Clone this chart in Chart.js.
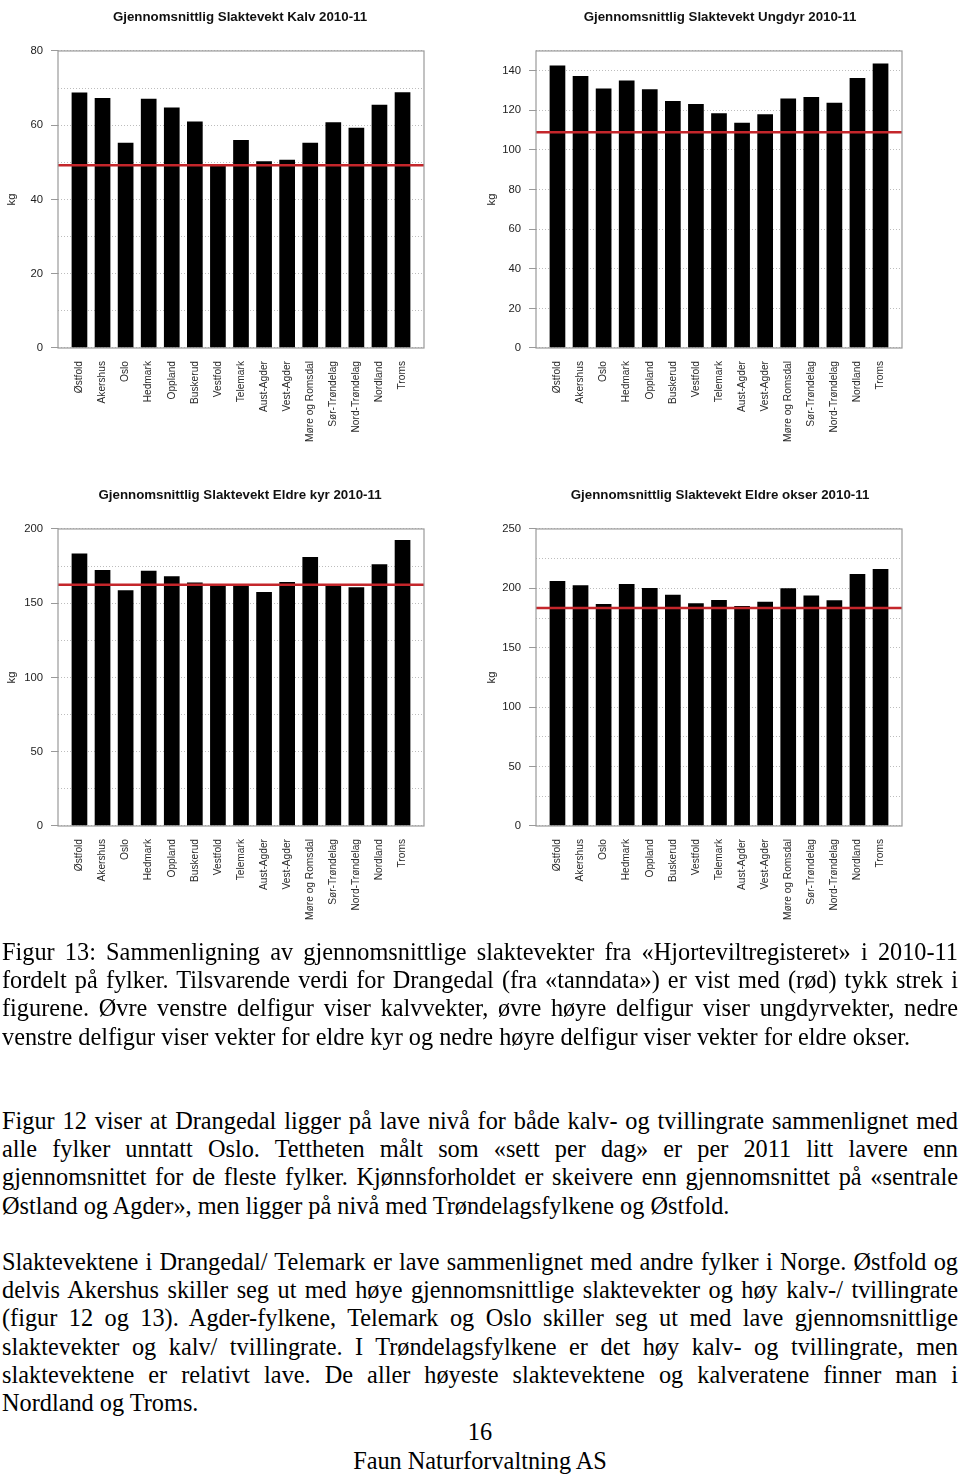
<!DOCTYPE html>
<html>
<head>
<meta charset="utf-8">
<script src="https://cdn.jsdelivr.net/npm/chart.js@4.4.0/dist/chart.umd.min.js"></script>
<style>
  body { margin: 0; background: #fff; }
  #page { position: relative; width: 960px; height: 1475px; overflow: hidden; background: #fff; }
  canvas { position: absolute; }
  .txt { position: absolute; left: 2px; width: 956px; font-family: "Liberation Serif", "Times New Roman", serif;
         font-size: 24.3px; line-height: 28.2px; color: #000; }
  .txt div { text-align: justify; text-align-last: justify; }
  .txt div.last { text-align-last: left; }
  .foot { position: absolute; left: 0; width: 960px; text-align: center;
          font-family: "Liberation Serif", "Times New Roman", serif; font-size: 24.3px; line-height: 28.2px; }
</style>
</head>
<body>
<div id="page">
  <canvas id="c0" width="480" height="470" style="left:0;top:0"></canvas>
  <canvas id="c1" width="480" height="470" style="left:480px;top:0"></canvas>
  <canvas id="c2" width="480" height="470" style="left:0;top:478px"></canvas>
  <canvas id="c3" width="480" height="470" style="left:480px;top:478px"></canvas>

  <div class="txt" style="top:938px">
    <div>Figur 13: Sammenligning av gjennomsnittlige slaktevekter fra «Hjorteviltregisteret» i 2010-11</div>
    <div>fordelt på fylker. Tilsvarende verdi for Drangedal (fra «tanndata») er vist med (rød) tykk strek i</div>
    <div>figurene. Øvre venstre delfigur viser kalvvekter, øvre høyre delfigur viser ungdyrvekter, nedre</div>
    <div class="last">venstre delfigur viser vekter for eldre kyr og nedre høyre delfigur viser vekter for eldre okser.</div>
  </div>
  <div class="txt" style="top:1107px">
    <div>Figur 12 viser at Drangedal ligger på lave nivå for både kalv- og tvillingrate sammenlignet med</div>
    <div>alle fylker unntatt Oslo. Tettheten målt som «sett per dag» er per 2011 litt lavere enn</div>
    <div>gjennomsnittet for de fleste fylker. Kjønnsforholdet er skeivere enn gjennomsnittet på «sentrale</div>
    <div class="last">Østland og Agder», men ligger på nivå med Trøndelagsfylkene og Østfold.</div>
  </div>
  <div class="txt" style="top:1248px">
    <div>Slaktevektene i Drangedal/ Telemark er lave sammenlignet med andre fylker i Norge. Østfold og</div>
    <div>delvis Akershus skiller seg ut med høye gjennomsnittlige slaktevekter og høy kalv-/ tvillingrate</div>
    <div>(figur 12 og 13). Agder-fylkene, Telemark og Oslo skiller seg ut med lave gjennomsnittlige</div>
    <div>slaktevekter og kalv/ tvillingrate. I Trøndelagsfylkene er det høy kalv- og tvillingrate, men</div>
    <div>slaktevektene er relativt lave. De aller høyeste slaktevektene og kalveratene finner man i</div>
    <div class="last">Nordland og Troms.</div>
  </div>
  <div class="foot" style="top:1418px">16</div>
  <div class="foot" style="top:1447px">Faun Naturforvaltning AS</div>
</div>

<script>
const regions = ['Østfold', 'Akershus', 'Oslo', 'Hedmark', 'Oppland', 'Buskerud', 'Vestfold', 'Telemark',
  'Aust-Agder', 'Vest-Agder', 'Møre og Romsdal', 'Sør-Trøndelag', 'Nord-Trøndelag', 'Nordland', 'Troms'];

const kalv       = [68.8, 67.3, 55.3, 67.1, 64.8, 61.0, 49.5, 56.0, 50.3, 50.7, 55.3, 60.8, 59.3, 65.5, 68.9];
const ungdyr     = [142.7, 137.3, 131.1, 135.1, 130.7, 124.7, 123.2, 118.6, 113.7, 118.1, 126.0, 126.7, 123.8, 136.3, 143.7];
const eldreKyr   = [183.4, 172.4, 158.7, 171.9, 168.1, 163.9, 162.3, 161.6, 157.6, 164.3, 181.1, 162.3, 160.7, 176.2, 192.6];
const eldreOkser = [206.2, 202.6, 186.9, 203.7, 200.3, 194.7, 187.4, 190.2, 185.2, 188.8, 200.1, 193.9, 190.0, 212.1, 216.3];

// Drangedal (tanndata), red line
const drangedal = [49.2, 108.9, 162.5, 183.5];

const titles = ['Gjennomsnittlig Slaktevekt Kalv 2010-11', 'Gjennomsnittlig Slaktevekt Ungdyr 2010-11',
  'Gjennomsnittlig Slaktevekt Eldre kyr 2010-11', 'Gjennomsnittlig Slaktevekt Eldre okser 2010-11'];
const yMax = [80, 150, 200, 250];
const gridStep = [10, 20, 25, 25];
const labelStep = [20, 20, 50, 50];

const FONT = '"Liberation Sans", Arial, sans-serif';

const boxPlugin = {
  id: 'rbox',
  afterDraw(chart, args, opts) {
    const { ctx, chartArea: a } = chart;
    const py = chart.scales.y.getPixelForValue(opts.ref);
    ctx.save();
    ctx.strokeStyle = '#c4262b';
    ctx.lineWidth = 2.5;
    ctx.beginPath();
    ctx.moveTo(a.left, py);
    ctx.lineTo(a.right, py);
    ctx.stroke();
    ctx.strokeStyle = '#9a9a9a';
    ctx.lineWidth = 1.2;
    ctx.strokeRect(a.left, a.top, a.right - a.left, a.bottom - a.top);
    ctx.restore();
  }
};

const series = [kalv, ungdyr, eldreKyr, eldreOkser];
const axisW = [58, 56, 58, 56];
const padR = [56, 58, 56, 58];

series.forEach((values, k) => {
  new Chart(document.getElementById('c' + k), {
    type: 'bar',
    data: {
      datasets: [{
        data: values.map((v, i) => ({ x: i, y: v })),
        backgroundColor: '#000',
        borderWidth: 0,
        categoryPercentage: 0.68,
        barPercentage: 1
      }]
    },
    options: {
      responsive: false,
      animation: false,
      layout: { padding: 0 },
      plugins: {
        legend: { display: false },
        tooltip: { enabled: false },
        title: {
          display: true, text: titles[k], color: '#111',
          font: { family: FONT, size: 13.3, weight: 'bold' },
          padding: { top: 9, bottom: 26 }
        },
        rbox: { ref: drangedal[k] }
      },
      scales: {
        x: {
          type: 'linear', min: -0.93, max: 14.93, offset: false,
          grid: { display: false, drawTicks: false },
          border: { display: false },
          afterBuildTicks: s => { s.ticks = regions.map((_, i) => ({ value: i })); },
          afterFit: s => { s.height = 470 - 348; },
          ticks: {
            autoSkip: false, minRotation: 90, maxRotation: 90, padding: 13,
            color: '#2a2a2a', font: { family: FONT, size: 10.2 },
            callback: v => regions[v]
          }
        },
        y: {
          min: 0, max: yMax[k], z: 1,
          afterFit: s => { s.width = axisW[k]; },
          border: { display: false, dash: [1, 2] },
          grid: {
            color: '#bdbdbd', lineWidth: 1, tickLength: 7,
            tickColor: c => (c.tick && c.tick.value % labelStep[k] === 0) ? '#999' : 'rgba(0,0,0,0)'
          },
          ticks: {
            stepSize: gridStep[k], padding: 8, color: '#1e1e1e',
            font: { family: FONT, size: 11.3 },
            callback: v => v % labelStep[k] === 0 ? v : ''
          },
          title: {
            display: true, text: 'kg', color: '#1e1e1e',
            font: { family: FONT, size: 11.3 }, padding: { top: 5, bottom: 0 }
          }
        },
        // empty right-hand axis: keeps the plot box off the right edge while the title stays centred on the panel
        yr: {
          position: 'right', display: true,
          grid: { display: false, drawTicks: false },
          border: { display: false },
          ticks: { display: false },
          afterFit: s => { s.width = padR[k]; }
        }
      }
    },
    plugins: [boxPlugin]
  });
});
</script>
</body>
</html>
